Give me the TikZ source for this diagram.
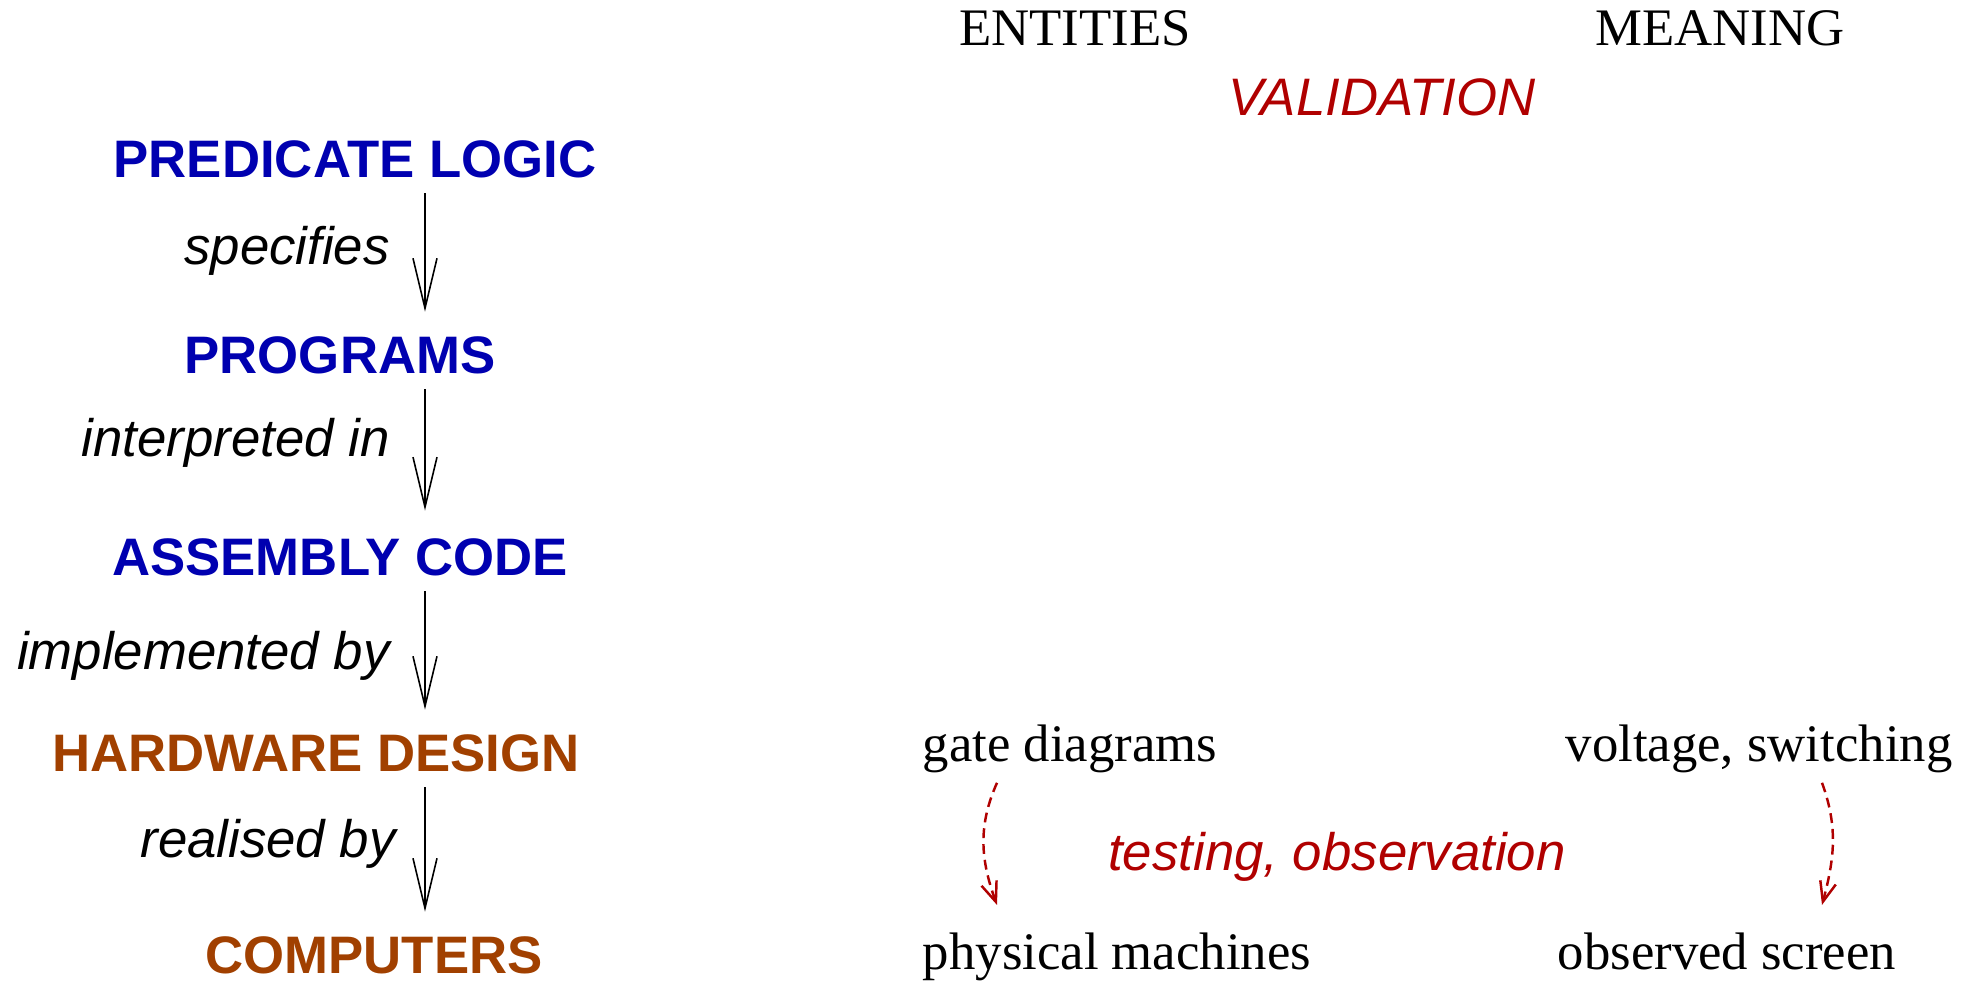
\documentclass[tikz,border=0pt]{standalone}
\usepackage{fontspec}
\setmainfont{Liberation Serif}
\setsansfont{Liberation Sans}
\usetikzlibrary{arrows.meta,calc,positioning}
\definecolor{logicblue}{rgb}{0.0, 0.0, 0.69}
\definecolor{hwbrown}{rgb}{0.63, 0.25, 0.0}
\definecolor{valred}{rgb}{0.69, 0.0, 0.0}
\def\valred(#1){\textcolor{valred}{#1}}
\tikzstyle{soft} = [font=\fontsize{15}{18}\sffamily\bfseries, text=logicblue, anchor=base]
\tikzstyle{hard} = [font=\fontsize{15}{18}\sffamily\bfseries, text=hwbrown, anchor=base]
\tikzstyle{verb} = [font=\fontsize{15}{18}\sffamily\itshape, anchor=base east]
\tikzstyle{thing} = [font=\fontsize{15}{18}\rmfamily, anchor=base]
\tikzstyle{down} = [line width=0.45pt, -{Straight Barb[length=5mm,width=2.4mm]}, shorten <=0.7pt, shorten >=3.7pt]
\tikzstyle{probe} = [line width=0.7pt, valred, dash pattern=on 2.8pt off 1.7pt, -{Straight Barb[length=2mm,width=1.6mm]}]

\begin{document}
\begin{tikzpicture}[x=0.01cm, y=0.01cm]
\useasboundingbox (0,0) rectangle (1975,983);
\coordinate (col) at (425,0);
% the chain of levels
\node[soft] (pl) at (355,805) {PREDICATE LOGIC};
\node[soft] (pr) at (340,609) {PROGRAMS};
\node[soft] (as) at (340,407) {ASSEMBLY CODE};
\node[hard] (hd) at (316,211) {HARDWARE DESIGN};
\node[hard] (co) at (374,9) {COMPUTERS};
\draw[down] (pl.south -| col) -- (pr.north -| col);
\draw[down, shorten >=4.6pt] (pr.south -| col) -- (as.north -| col);
\draw[down] (as.south -| col) -- (hd.north -| col);
\draw[down] (hd.south -| col) -- (co.north -| col);
\node[verb] (spec) at (402,718) {specifies};
\node[verb] (interp) at (402,526) {interpreted in};
\node[verb] (impl) at (402,313) {implemented by};
\node[verb] (real) at (408,125) {realised by};
% columns on the right
\node[thing] (ent) at (1075,937) {ENTITIES};
\node[thing] (mean) at (1720,937) {MEANING};
\node[verb, anchor=base] (valid) at (1382,867) {\valred(VALIDATION)};
\node[thing] (gd) at (1070,221) {gate diagrams};
\node[thing] (vs) at (1759,221) {voltage, switching};
\node[thing] (pm) at (1117,13) {physical machines};
\node[thing] (os) at (1727,13) {observed screen};
\node[verb, anchor=base] (test) at (1337,112) {\valred(testing, observation)};
\draw[probe] ($(gd.south)+(-73,3)$) to[out=246,in=110] ($(pm.north)+(-120,16)$);
\draw[probe] ($(vs.south)+(63,3)$) to[out=290,in=75] ($(os.north)+(95,16)$);
\end{tikzpicture}
\end{document}
